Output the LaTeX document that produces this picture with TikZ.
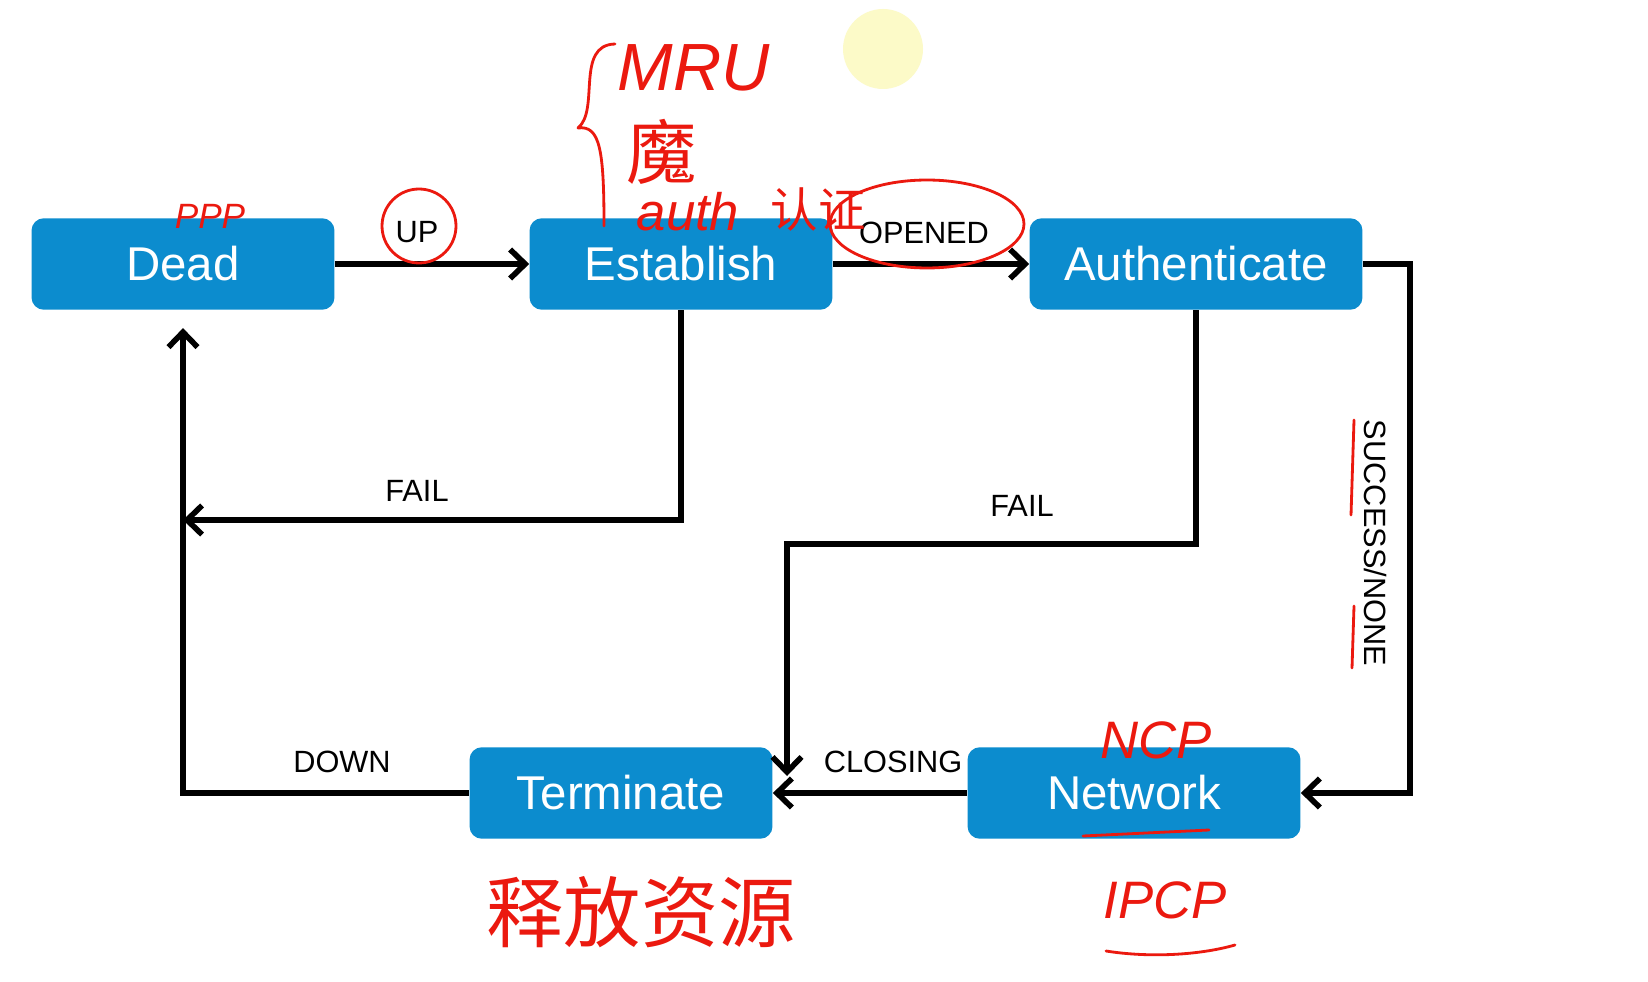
\documentclass[tikz,border=0pt]{standalone}
\usepackage{fontspec}
\setmainfont{Liberation Sans}
\newfontfamily\cjkfont{Noto Sans CJK SC}
\usetikzlibrary{arrows.meta}
\definecolor{pppblue}{RGB}{12,140,206}
\definecolor{inkred}{RGB}{235,25,15}
\definecolor{blobyellow}{RGB}{252,250,200}

\begin{document}
\begin{tikzpicture}[
  x=0.02cm, y=-0.02cm,
  state/.style={fill=pppblue, rounded corners=7pt, minimum width=6.06cm, minimum height=1.83cm, text=white, font=\fontsize{27}{27}\selectfont, inner sep=0pt},
  widestate/.style={state, minimum width=6.66cm},
  edgelabel/.style={font=\fontsize{17.5}{17.5}\selectfont, inner sep=0pt},
  flow/.style={line width=3.2pt, -{Straight Barb[length=0.3cm, width=0.58cm]}},
  ink/.style={draw=inkred, line width=1.6pt, line cap=round, line join=round},
  inktext/.style={text=inkred, inner sep=0pt}
]

\fill[white] (0,0) rectangle (1648,982);
\useasboundingbox (0,0) rectangle (1648,982);

\node[state]     (dead)      at (183,264)  {Dead};
\node[state]     (establish) at (681,264)  {Establish};
\node[widestate] (auth)      at (1196,264) {Authenticate};
\node[state]     (term)      at (621,793)  {Terminate};
\node[widestate] (network)   at (1134,793) {Network};

\coordinate (authturn) at (1410,793);
\coordinate (failjoin) at (183,520);
\coordinate (failbend) at (787,544);
\coordinate (termtop)  at (787,776);

\draw[flow] (dead) -- (establish);
\draw[flow] (establish) -- (auth);
\draw[flow] (auth.east) -| (authturn) -- (network.east);
\draw[flow] (establish.south) |- (failjoin);
\draw[flow] (auth.south) |- (failbend) -- (termtop);
\draw[flow] (network) -- (term);
\draw[flow, shorten >=0.36cm] (term.west) -| (dead.south);

\node[edgelabel] (uplbl)      at (417,232)  {UP};
\node[edgelabel] (openedlbl)  at (924,233)  {OPENED};
\node[edgelabel] (estfaillbl) at (417,491)  {FAIL};
\node[edgelabel] (authfaillbl) at (1022,506) {FAIL};
\node[edgelabel] (downlbl)    at (342,762)  {DOWN};
\node[edgelabel] (closinglbl) at (893,762)  {CLOSING};
\node[edgelabel, rotate=-90] (successlbl) at (1375,543) {SUCCESS/NONE};

% handwritten notes
\fill[blobyellow] (883,49) circle (0.8cm);
\draw[ink] (419,226) circle (0.74cm);
\draw[ink] (927,224) ellipse [x radius=1.94cm, y radius=0.88cm];
\draw[ink] (615,44) .. controls (575,45) and (600,110) .. (578,128) .. controls (600,125) and (604,150) .. (604,226);
\draw[ink] (1354,420) -- (1351,515);
\draw[ink] (1354,606) -- (1352,668);
\draw[ink] (1083,836) -- (1209,830);
\draw[ink] (1106,951) .. controls (1150,958) and (1200,955) .. (1235,945);

\node[inktext, font=\fontsize{20}{20}\selectfont\itshape] (pppnote) at (210,216) {PPP};
\node[inktext, font=\fontsize{38}{38}\selectfont\itshape] (mrunote) at (694,68) {MRU};
\node[inktext, font=\cjkfont\fontsize{40}{40}\selectfont] (magicnote) at (662,152) {魔};
\node[inktext, font=\fontsize{30}{30}\selectfont\itshape] (authnote) at (688,212) {auth};
\node[inktext, font=\cjkfont\fontsize{27}{27}\selectfont] (certnote) at (818,210) {认证};
\node[inktext, font=\fontsize{30}{30}\selectfont\itshape] (ncpnote) at (1156,740) {NCP};
\node[inktext, font=\fontsize{30}{30}\selectfont\itshape] (ipcpnote) at (1165,900) {IPCP};
\node[inktext, font=\cjkfont\fontsize{44}{44}\selectfont] (releasenote) at (641,912) {释放资源};

\end{tikzpicture}
\end{document}
